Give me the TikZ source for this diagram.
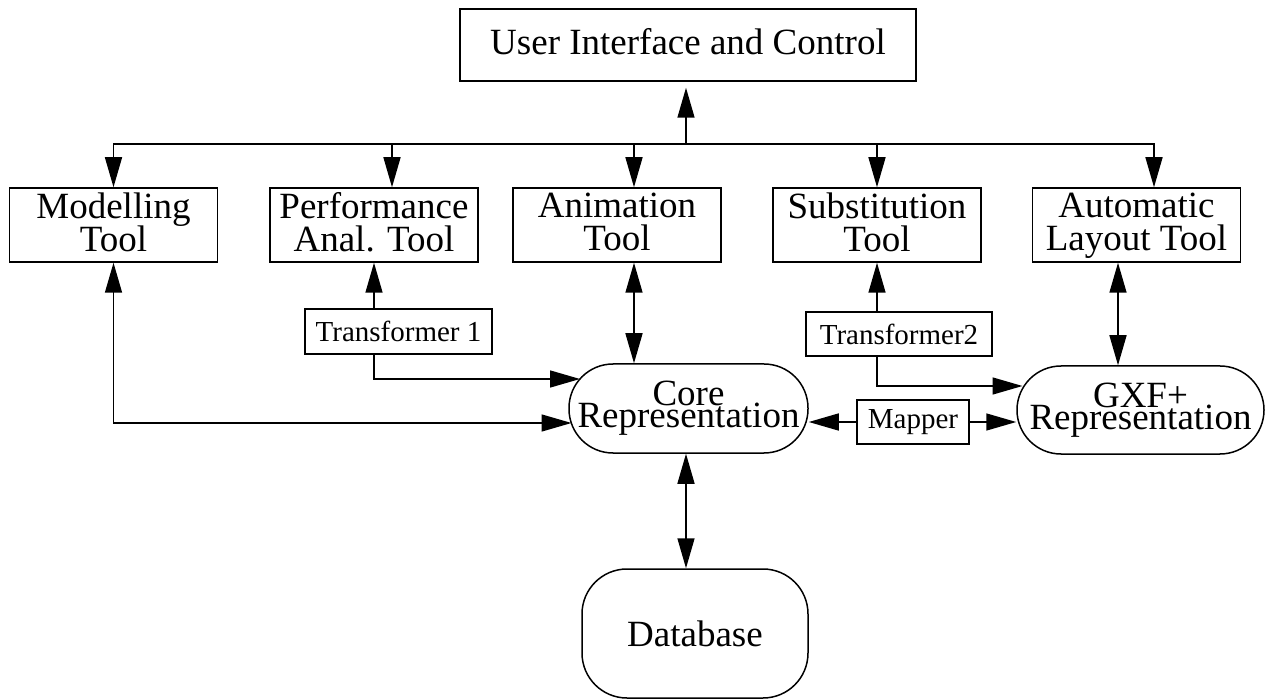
\documentclass[tikz,border=0pt]{standalone}
\usepackage{fontspec}
\setmainfont{Liberation Serif}
\usetikzlibrary{arrows.meta,calc}
\AtBeginDocument{\lineskiplimit=-100pt\relax}
\begin{document}
\begin{tikzpicture}[x=1pt,y=-1pt,
  every node/.style={inner sep=0pt, line width=1.5pt},
  big/.style={font=\fontsize{37}{33}\selectfont},
  box/.style={draw, rectangle, big, align=center},
  tool/.style={box, minimum width=208pt, minimum height=74pt, text depth=6pt},
  small/.style={draw, rectangle, font=\fontsize{29}{29}\selectfont},
  rep/.style={draw, rectangle, rounded corners=44pt, minimum width=239pt, minimum height=89pt,
    font=\fontsize{37}{22}\selectfont, align=center},
  line/.style={line width=1.5pt},
  arr/.style={line, -{Triangle[length=30pt,width=17pt]}},
  darr/.style={line, {Triangle[length=30pt,width=17pt]}-{Triangle[length=30pt,width=17pt]}},
]
\useasboundingbox (0,0) rectangle (1272,700);

\node[box, minimum width=456pt, minimum height=72pt, text depth=8pt] (ui) at (688,45) {User Interface and Control};
\node[tool] (mod) at (113.5,225) {Modelling\\Tool};
\node[tool] (perf) at (374,225) {Performance\\Anal. Tool};
\node[tool] (anim) at (617,225) {Animation\\Tool};
\node[tool] (subst) at (877,225) {Substitution\\Tool};
\node[tool] (auto) at (1136.5,225) {Automatic\\Layout Tool};
\node[small, minimum width=187pt, minimum height=45pt] (t1) at (398.5,331.5) {Transformer 1};
\node[small, minimum width=186pt, minimum height=44pt] (t2) at (899,334) {Transformer2};
\node[small, minimum width=112pt, minimum height=44pt] (map) at (913,422) {Mapper};
\node[rep] (core) at (688.5,408.5) {Core\\Representation};
\node[rep, minimum width=247pt, minimum height=88pt] (gxf) at (1140.5,410) {GXF+\\Representation};
\node[draw, rectangle, rounded corners=45pt, minimum width=226pt, minimum height=129pt, big] (db) at (695,633.5) {Database};

\coordinate (bus) at (686,144);
\draw[arr, shorten >=6pt] (bus) -- (bus |- ui.south);
\draw[arr] (bus) -| (mod.north);
\draw[arr] (bus) -| ([xshift=18pt]perf.north);
\draw[arr] (bus) -| ([xshift=17pt]anim.north);
\draw[arr] (bus) -| (subst.north);
\draw[arr] (bus) -| ([xshift=17.5pt]auto.north);

\draw[darr] (mod.south) |- ($(core.center)+(-117,14.5)$);
\draw[arr] (t1.north -| perf.south) -- (perf.south);
\draw[arr] (t1.south -| perf.south) |- ($(core.center)+(-108.5,-29.5)$);
\draw[darr] ([xshift=17pt]anim.south) -- ([xshift=17pt]anim.south |- core.north);
\draw[arr] (t2.north -| subst.south) -- (subst.south);
\draw[arr] (t2.south -| subst.south) |- ($(gxf.center)+(-118,-24)$);
\draw[darr] ([xshift=-18.5pt]auto.south) -- ([xshift=-18.5pt]auto.south |- gxf.north);
\draw[arr] (map.west) -- (map.west -| core.east);
\draw[arr] (map.east) -- (map.east -| gxf.west);
\draw[darr] ([xshift=-2.5pt]core.south) -- ([xshift=-2.5pt]core.south |- db.north);
\end{tikzpicture}
\end{document}
